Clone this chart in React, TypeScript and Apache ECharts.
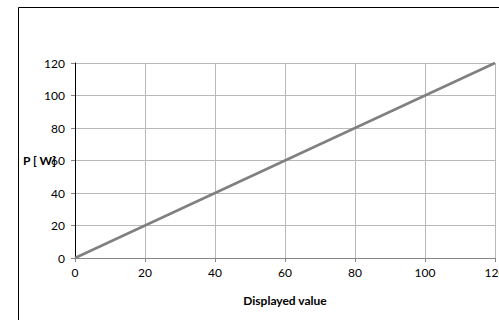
import React, { useEffect, useRef } from "react";
import * as echarts from "echarts";

const displayedValues = [0, 20, 40, 60, 80, 100, 120];
const powerValues = [0, 20, 40, 60, 80, 100, 120];
const xAxisTitle = "Displayed value";
const yAxisTitle = "P [ W]";

export default function App() {
  const ref = useRef<HTMLDivElement>(null);
  useEffect(() => {
    document.body.style.margin = "0";
    const chart = echarts.init(ref.current!, null, { renderer: "svg" });
    const font = "Lato, 'Open Sans', sans-serif";
    chart.setOption({
      animation: false,
      backgroundColor: "#ffffff",
      grid: {
        left: 75,
        right: 4,
        top: 63,
        bottom: 62,
        containLabel: false,
        outerBoundsMode: "none",
      },
      graphic: [
        {
          type: "rect",
          shape: { x: 18.5, y: 7.5, width: 500, height: 330 },
          style: { fill: "none", stroke: "#000000", lineWidth: 1 },
          silent: true,
          z: 0,
        },
      ],
      xAxis: {
        type: "value",
        min: 0,
        max: 120,
        interval: 20,
        name: xAxisTitle,
        nameLocation: "middle",
        nameGap: 36,
        nameMoveOverlap: false,
        nameTextStyle: { fontFamily: font, fontSize: 12, fontWeight: "bold", color: "#000" },
        axisLine: { show: true, lineStyle: { color: "#868686", width: 1 } },
        axisTick: { show: true, length: 4, lineStyle: { color: "#868686" } },
        axisLabel: { fontFamily: font, fontSize: 12, color: "#000", margin: 8 },
        splitLine: { show: true, lineStyle: { color: "#b9b9b9", width: 1 } },
      },
      yAxis: {
        type: "value",
        min: 0,
        max: 120,
        interval: 20,
        name: yAxisTitle,
        nameLocation: "middle",
        nameRotate: 0,
        nameGap: 19,
        nameMoveOverlap: false,
        nameTextStyle: { fontFamily: font, fontSize: 12, fontWeight: "bold", color: "#000" },
        axisLine: { show: true, lineStyle: { color: "#000000", width: 1 } },
        axisTick: { show: true, length: 4, lineStyle: { color: "#868686" } },
        axisLabel: { fontFamily: font, fontSize: 12, color: "#000", margin: 10 },
        splitLine: { show: true, lineStyle: { color: "#b9b9b9", width: 1 } },
      },
      series: [
        {
          type: "line",
          data: displayedValues.map((x, i) => [x, powerValues[i]]),
          showSymbol: false,
          lineStyle: { color: "#808080", width: 2.5 },
          z: 3,
        },
      ],
    });
    return () => chart.dispose();
  }, []);
  return <div ref={ref} style={{ width: 499, height: 320 }} />;
}
